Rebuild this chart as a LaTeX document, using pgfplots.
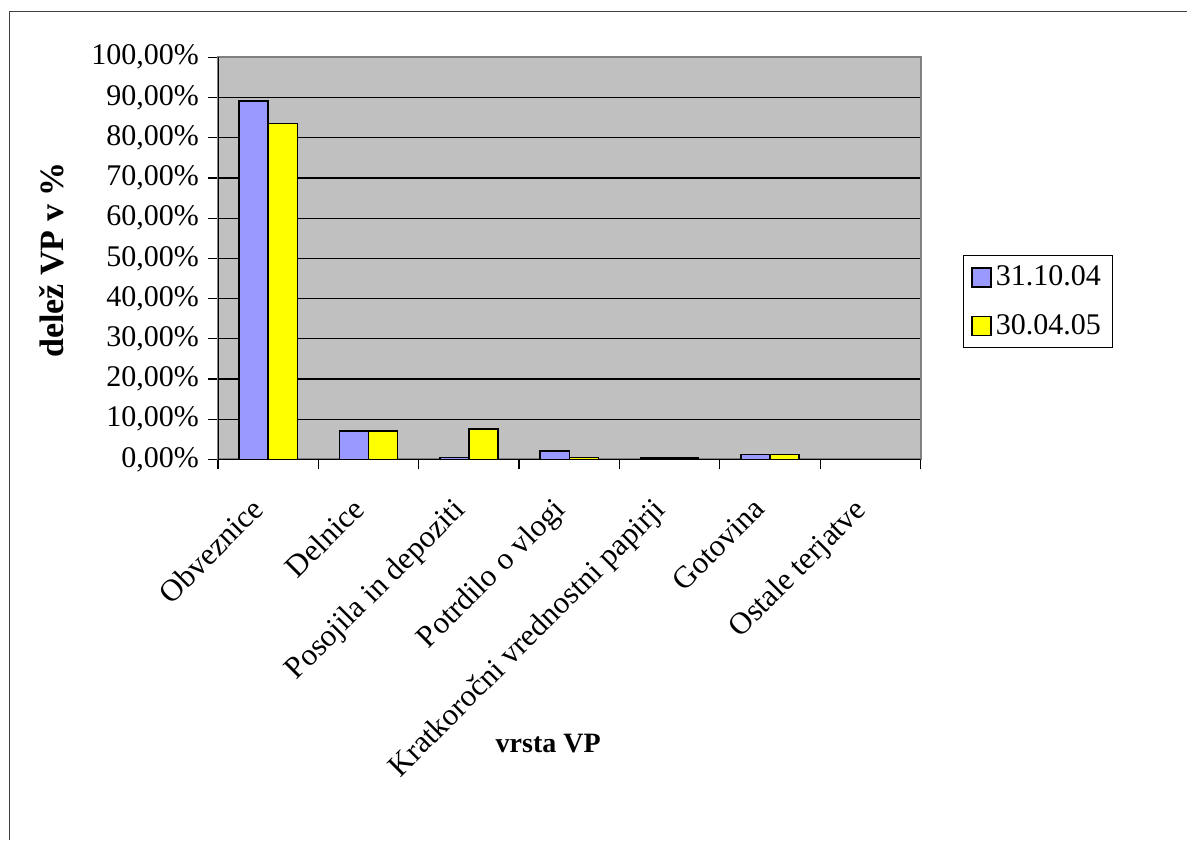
\documentclass[border=0pt]{standalone}
\usepackage{fontspec}
\setmainfont{Liberation Serif}
\usepackage{pgfplots}
\pgfplotsset{compat=1.18}
\definecolor{barblue}{HTML}{9999FF}
\definecolor{baryellow}{HTML}{FFFF00}
\definecolor{plotgray}{HTML}{C0C0C0}
\definecolor{bordergray}{HTML}{808080}
\begin{document}
\begin{tikzpicture}
\useasboundingbox (0,0) rectangle (593.5pt,420pt);
\draw[line width=0.8pt, color=black!75] (4.8pt,0pt) -- (4.8pt,414.2pt) -- (593.5pt,414.2pt);
\begin{axis}[
  at={(109pt,190.25pt)}, anchor=south west,
  scale only axis, width=351.25pt, height=201.1pt,
  xmin=-0.5, xmax=6.5, ymin=0, ymax=100,
  ybar=0pt, bar width=0.29,
  axis background/.style={fill=plotgray},
  axis line style={draw=bordergray, line width=1pt},
  tick align=outside,
  xtick pos=bottom, ytick pos=left,
  ytick={0,10,...,100},
  yticklabels={{0,00\%},{10,00\%},{20,00\%},{30,00\%},{40,00\%},{50,00\%},{60,00\%},{70,00\%},{80,00\%},{90,00\%},{100,00\%}},
  ymajorgrids, major grid style={black, line width=0.6pt},
  xtick={0,...,6},
  xticklabels={Obveznice,Delnice,Posojila in depoziti,Potrdilo o vlogi,Kratkoročni vrednostni papirji,Gotovina,Ostale terjatve},
  minor xtick={-0.5,0.5,...,6.5},
  major x tick style={draw=none},
  minor x tick style={black, line width=0.6pt},
  major y tick style={black, line width=0.6pt},
  major tick length=5pt, minor tick length=5pt,
  tick label style={font=\fontsize{15}{18}\selectfont},
  yticklabel style={xshift=-1pt},
  xticklabel style={rotate=45, anchor=north east, inner sep=1pt, xshift=-14.6pt, yshift=-1.9pt, font=\fontsize{15.5}{18}\selectfont},
  xlabel={vrsta VP}, ylabel={delež VP v \%},
  every axis x label/.style={at={(axis description cs:0.47,-0.707)}, anchor=center, font=\bfseries\fontsize{14}{17}\selectfont},
  every axis y label/.style={at={(axis description cs:-0.236,0.496)}, rotate=90, anchor=center, font=\bfseries\fontsize{17}{20}\selectfont},
  legend style={at={(1.06,0.508)}, anchor=north west, draw=black, line width=0.6pt,
     font=\fontsize{15}{18}\selectfont, inner xsep=4pt, inner ysep=3pt, row sep=9pt,
     cells={anchor=west}},
  legend cell align=left,
]
\addplot[fill=barblue, draw=black, line width=0.75pt,
  legend image code/.code={\draw[fill=barblue, draw=black, line width=0.75pt] (0pt,-4.75pt) rectangle (9.5pt,4.75pt);}]
  coordinates {(0,89.1) (1,7.1) (2,0.5) (3,2.1) (4,0.4) (5,1.2) (6,0)};
\addplot[fill=baryellow, draw=black, line width=0.75pt,
  legend image code/.code={\draw[fill=baryellow, draw=black, line width=0.75pt] (0pt,-4.75pt) rectangle (9.5pt,4.75pt);}]
  coordinates {(0,83.6) (1,7.1) (2,7.6) (3,0.5) (4,0.4) (5,1.2) (6,0)};
\legend{31.10.04,30.04.05}
\draw[black, line width=0.8pt] (rel axis cs:0,1) -- (rel axis cs:0,0) -- (rel axis cs:1,0);
\end{axis}
\end{tikzpicture}
\end{document}
